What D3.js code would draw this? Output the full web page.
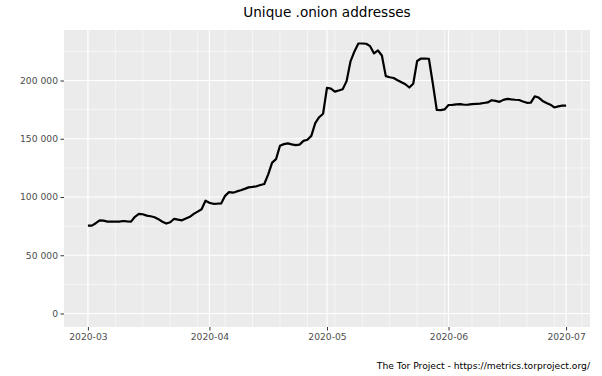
<!DOCTYPE html>
<html>
<head>
<meta charset="utf-8">
<script src="https://cdn.jsdelivr.net/npm/d3@7"></script>
<style>
  body { margin: 0; background: #fff; }
  svg { display: block; font-family: "DejaVu Sans", sans-serif; }
</style>
</head>
<body>
<svg id="chart" width="602" height="376"></svg>
<script>

// daily values, 2020-03-01 .. 2020-07-01
var startDate = "2020-03-01";
var onionValues = [
  75400, 75400, 77500, 80000, 79700, 78900, 78800, 78800, 78900, 79400,
  79100, 78900, 83000, 85500, 85200, 84000, 83500, 82600, 81000, 78800,
  77200, 78300, 81300, 80600, 80000, 81500, 83000, 85500, 87500, 89500,
  96800, 95000, 94200, 94300, 94500, 101000, 104200, 103700, 104800, 105800,
  107000, 108300, 108700, 109200, 110300, 111200, 119500, 129500, 132500, 144000,
  145400, 146000, 145200, 144500, 145000, 148200, 149200, 152500, 163500, 168500,
  171500, 193800, 193000, 190500, 191500, 192500, 199500, 216500, 225000, 231800,
  231800, 231600, 229500, 223300, 225800, 221500, 203800, 202800, 202200, 200300,
  198500, 196800, 194000, 197200, 216800, 218900, 218800, 218700, 197500, 174800,
  174600, 175200, 179000, 179100, 179500, 179800, 179200, 179300, 179800, 180000,
  180200, 180700, 181200, 183100, 182500, 181700, 183400, 184300, 183800, 183500,
  183300, 182000, 180900, 181000, 186400, 185400, 182500, 180800, 179300, 176900,
  177800, 178400, 178400
];
var yTicks = [0, 50000, 100000, 150000, 200000];
var yMinorTicks = [25000, 75000, 125000, 175000, 225000];
var xTickLabels = ["2020-03", "2020-04", "2020-05", "2020-06", "2020-07"];

var titleText = "Unique .onion addresses";
var captionText = "The Tor Project - https://metrics.torproject.org/";

var svg = d3.select("#chart");
var panelL = 64, panelR = 590, panelT = 30, panelB = 327;

var parseDay = d3.utcParse("%Y-%m-%d");
var parseMonth = d3.utcParse("%Y-%m");
var day0 = parseDay(startDate);

var data = onionValues.map(function (v, i) {
  return { date: d3.utcDay.offset(day0, i), value: v };
});

// ggplot style 5% expansion
var xExt = d3.extent(data, function (d) { return d.date; });
var xPad = (xExt[1] - xExt[0]) * 0.05;
var x = d3.scaleUtc()
  .domain([new Date(+xExt[0] - xPad), new Date(+xExt[1] + xPad)])
  .range([panelL, panelR]);

var yMax = d3.max(onionValues);
var y = d3.scaleLinear()
  .domain([-yMax * 0.05, yMax * 1.05])
  .range([panelB, panelT]);

var locale = d3.formatLocale({ decimal: ".", thousands: " ", grouping: [3], currency: ["", ""] });
var fmt = locale.format(",.0f");

svg.append("rect")
  .attr("x", panelL).attr("y", panelT)
  .attr("width", panelR - panelL).attr("height", panelB - panelT)
  .attr("fill", "#ebebeb");

var grid = svg.append("g");

grid.selectAll("line.yminor")
  .data(yMinorTicks)
  .enter().append("line")
  .attr("x1", panelL).attr("x2", panelR)
  .attr("y1", function (d) { return y(d); })
  .attr("y2", function (d) { return y(d); })
  .attr("stroke", "#fff").attr("stroke-width", 0.55);

// weekly minor lines on sundays
var sundays = d3.utcSunday.range(x.domain()[0], x.domain()[1]);
grid.selectAll("line.xminor")
  .data(sundays)
  .enter().append("line")
  .attr("y1", panelT).attr("y2", panelB)
  .attr("x1", function (d) { return x(d); })
  .attr("x2", function (d) { return x(d); })
  .attr("stroke", "#fff").attr("stroke-width", 0.55);

grid.selectAll("line.ymajor")
  .data(yTicks)
  .enter().append("line")
  .attr("x1", panelL).attr("x2", panelR)
  .attr("y1", function (d) { return y(d); })
  .attr("y2", function (d) { return y(d); })
  .attr("stroke", "#fff").attr("stroke-width", 1.1);

var xTicks = xTickLabels.map(function (s) { return parseMonth(s); });

grid.selectAll("line.xmajor")
  .data(xTicks)
  .enter().append("line")
  .attr("y1", panelT).attr("y2", panelB)
  .attr("x1", function (d) { return x(d); })
  .attr("x2", function (d) { return x(d); })
  .attr("stroke", "#fff").attr("stroke-width", 1.1);

var line = d3.line()
  .x(function (d) { return x(d.date); })
  .y(function (d) { return y(d.value); });

svg.append("path")
  .datum(data)
  .attr("d", line)
  .attr("fill", "none")
  .attr("stroke", "#000")
  .attr("stroke-width", 2.2)
  .attr("stroke-linejoin", "round");

// axes
var yAxis = d3.axisLeft(y)
  .tickValues(yTicks)
  .tickSize(3.5)
  .tickPadding(2.5)
  .tickFormat(fmt);

var gy = svg.append("g")
  .attr("transform", "translate(" + panelL + ",0)")
  .call(yAxis);

var xAxis = d3.axisBottom(x)
  .tickValues(xTicks)
  .tickSize(3.5)
  .tickPadding(2.5)
  .tickFormat(d3.utcFormat("%Y-%m"));

var gx = svg.append("g")
  .attr("transform", "translate(0," + panelB + ")")
  .call(xAxis);

[gx, gy].forEach(function (g) {
  g.select(".domain").remove();
  g.selectAll(".tick line").attr("stroke", "#333333").attr("stroke-width", 1);
  g.selectAll(".tick text")
    .attr("fill", "#4d4d4d")
    .attr("font-size", 9.2)
    .attr("font-family", "DejaVu Sans, sans-serif");
});

svg.append("text")
  .attr("x", (panelL + panelR) / 2)
  .attr("y", 17)
  .attr("text-anchor", "middle")
  .attr("font-size", 13.6)
  .attr("fill", "#000")
  .text(titleText);

svg.append("text")
  .attr("x", panelR)
  .attr("y", 369)
  .attr("text-anchor", "end")
  .attr("font-size", 9.2)
  .attr("fill", "#000")
  .text(captionText);

</script>
</body>
</html>
